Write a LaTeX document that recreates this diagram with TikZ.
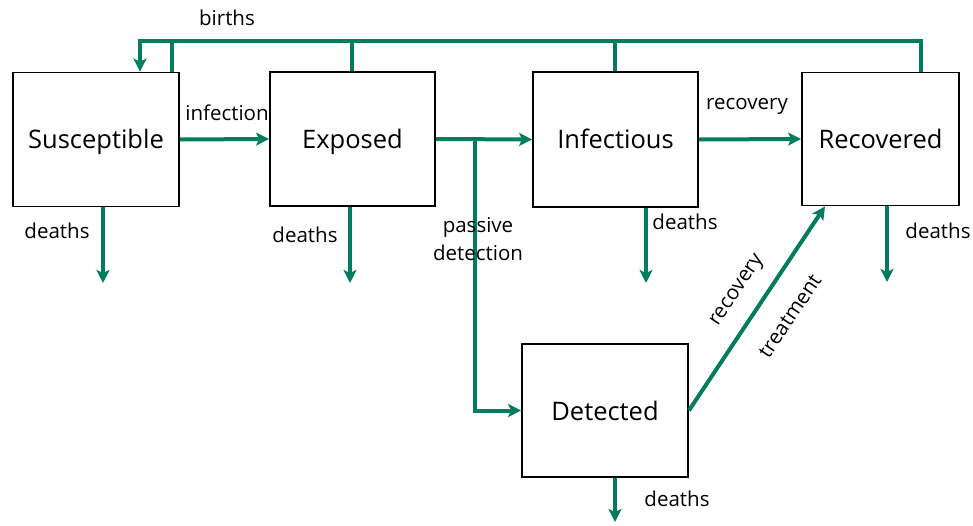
\documentclass[tikz,border=0pt]{standalone}
\usepackage{fontspec}
\setmainfont{Open Sans}
\usetikzlibrary{arrows.meta}
\definecolor{flowc}{RGB}{0,125,95}
\begin{document}
\begin{tikzpicture}[x=1pt,y=-1pt,
  box/.style={draw=black, line width=1.8pt, inner sep=0pt, text height=19pt, text depth=0pt, font=\fontsize{25.5}{30}\selectfont},
  flowline/.style={draw=flowc, line width=4pt},
  arr/.style={flowline, -{Stealth[length=13pt,width=13pt,inset=3pt]}},
  lbl/.style={font=\fontsize{20.5}{28}\selectfont, inner sep=0pt, align=center}]
\useasboundingbox (0,0) rectangle (973,526);
% boxes
\node[box, minimum width=166pt, minimum height=134pt] (S) at (96,139.5) {Susceptible};
\node[box, minimum width=165pt, minimum height=134pt] (E) at (352.5,139) {Exposed};
\node[box, minimum width=165pt, minimum height=135pt] (I) at (615.5,139.5) {Infectious};
\node[box, minimum width=157pt, minimum height=133pt] (R) at (880.5,139) {Recovered};
\node[box, minimum width=166pt, minimum height=133pt] (D) at (605,410.5) {Detected};
% births
\coordinate (sb) at (140,41);
\coordinate (rb) at (921,41);
\coordinate (s2) at (172,41);
\coordinate (e2) at (352,41);
\coordinate (i2) at (615,41);
\draw[arr] (R.north -| rb) -- (rb) -- (sb) -- (S.north -| sb);
\draw[flowline] (s2) -- (S.north -| s2);
\draw[flowline] (e2) -- (E.north -| e2);
\draw[flowline] (i2) -- (I.north -| i2);
\node[lbl] (births) at (227,18) {births};
% main flows
\draw[arr] (S.east) -- (E.west);
\node[lbl] (linf) at (227,113) {infection};
\draw[arr] (E.east) -- (I.west);
\coordinate (pj) at (475,139.5);
\draw[arr] (pj) -- (pj |- D.west) -- (D.west);
\node[lbl] (lpas) at (478,239) {passive\\detection};
\draw[arr] (I.east) -- (R.west);
\node[lbl] (lrec) at (747,106) {recovery};
\coordinate (rt) at (825,0);
\draw[arr] (D.east) -- (R.south -| rt);
\node[lbl, rotate=56] (lrec2) at (738,291) {recovery};
\node[lbl, rotate=56] (ltreat) at (790,316) {treatment};
% deaths
\coordinate (sd) at (103,283);
\coordinate (ed) at (350,283);
\coordinate (id) at (646,283);
\coordinate (rd) at (887,282);
\coordinate (dd) at (615,522);
\draw[arr] (S.south -| sd) -- (sd);
\draw[arr] (E.south -| ed) -- (ed);
\draw[arr] (I.south -| id) -- (id);
\draw[arr] (R.south -| rd) -- (rd);
\draw[arr] (D.south -| dd) -- (dd);
\node[lbl] (lsd) at (57,231) {deaths};
\node[lbl] (led) at (305,235) {deaths};
\node[lbl] (lid) at (685,222) {deaths};
\node[lbl] (lrd) at (938,231) {deaths};
\node[lbl] (ldd) at (677,499) {deaths};
\end{tikzpicture}
\end{document}
